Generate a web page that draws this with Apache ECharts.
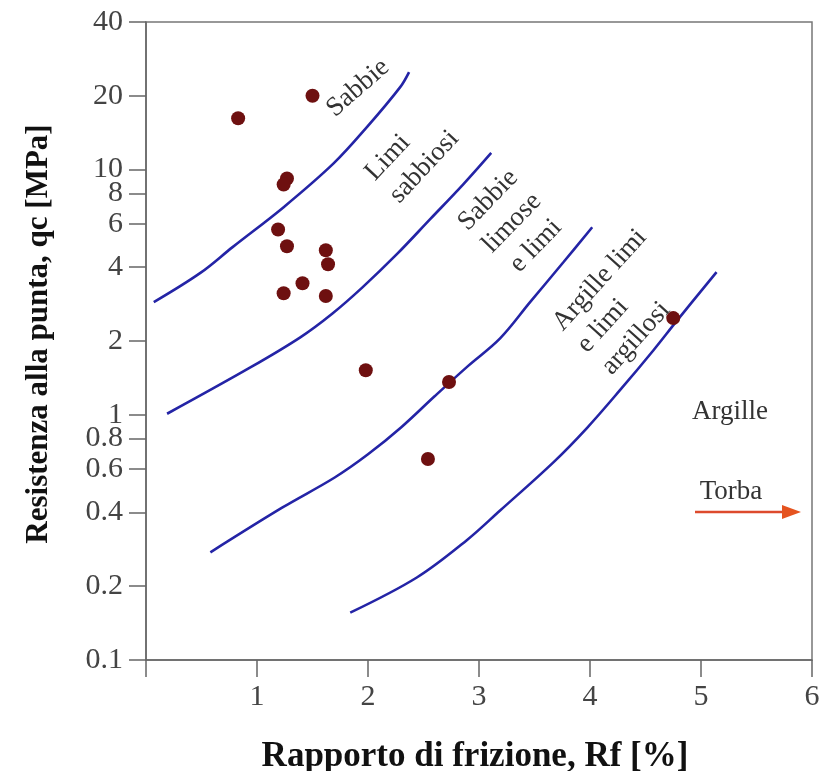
<!DOCTYPE html>
<html>
<head>
<meta charset="utf-8">
<script src="https://cdn.jsdelivr.net/npm/echarts@6/dist/echarts.min.js"></script>
<style>
  html, body { margin: 0; padding: 0; background: #fff; }
  #chart { width: 823px; height: 771px; }
</style>
</head>
<body>
<div id="chart"></div>
<script>
// Robertson-type CPT classification chart: Rf [%] vs qc [MPa] (log)

// Soil-class boundary curves, [Rf, qc]
const curveSabbie = [[0.07, 2.88], [0.49, 3.79], [0.78, 4.83], [1.24, 7.03], [1.69, 10.6], [1.99, 14.9], [2.29, 21.7], [2.37, 25.0]];
const curveLimiSabbiosi = [[0.19, 1.01], [0.94, 1.56], [1.39, 2.07], [1.68, 2.59], [1.95, 3.31], [2.26, 4.52], [2.56, 6.28], [2.86, 8.73], [3.11, 11.7]];
const curveSabbieLimose = [[0.58, 0.275], [1.23, 0.419], [1.70, 0.555], [2.00, 0.690], [2.30, 0.890], [2.60, 1.19], [2.90, 1.58], [3.19, 2.05], [3.46, 2.88], [3.76, 4.19], [4.02, 5.82]];
const curveArgilleLimi = [[1.84, 0.156], [2.44, 0.217], [2.89, 0.308], [3.19, 0.407], [3.67, 0.640], [3.97, 0.881], [4.27, 1.26], [4.57, 1.83], [4.78, 2.41], [5.14, 3.82]];

// Measured CPT points
const rfValues = [0.83, 1.50, 1.27, 1.24, 1.19, 1.27, 1.62, 1.64, 1.41, 1.24, 1.62, 1.98, 2.73, 2.54, 4.75];
const qcValues = [16.2, 20.0, 9.2, 8.7, 5.7, 4.87, 4.69, 4.11, 3.44, 3.13, 3.05, 1.52, 1.36, 0.66, 2.48];

// Axis tick values
const xTicks = [0, 1, 2, 3, 4, 5, 6];
const yTicks = [0.1, 0.2, 0.4, 0.6, 0.8, 1, 2, 4, 6, 8, 10, 20, 40];

const serif = '"Liberation Serif", "Times New Roman", serif';
const curveColor = '#2424a6';
const axisColor = '#666';

const points = rfValues.map((x, i) => [x, qcValues[i]]);

function curveSeries(name, data) {
  return {
    name: name,
    type: 'line',
    data: data,
    smooth: 0.35,
    showSymbol: false,
    symbol: 'none',
    lineStyle: { color: curveColor, width: 2.6 },
    z: 2,
    silent: true
  };
}

const chart = echarts.init(document.getElementById('chart'), null, { renderer: 'canvas' });

const zoneLabel = (text, x, y, deg, align) => ({
  type: 'text',
  x: x,
  y: y,
  rotation: deg * Math.PI / 180,
  style: {
    text: text,
    x: 0,
    y: 0,
    font: '27px ' + serif,
    fill: '#333',
    align: align,
    verticalAlign: 'middle',
    lineHeight: 33
  },
  z: 10
});

chart.setOption({
  animation: false,
  backgroundColor: '#fff',
  grid: {
    left: 146, right: 11, top: 22, bottom: 111,
    outerBoundsMode: 'none',
    containLabel: false,
    show: true,
    borderColor: '#777',
    borderWidth: 1.5,
    backgroundColor: 'transparent'
  },
  xAxis: {
    type: 'value',
    min: 0,
    max: 6,
    interval: 1,
    name: 'Rapporto di frizione, Rf [%]',
    nameLocation: 'middle',
    nameGap: 79,
    nameTextStyle: { fontFamily: serif, fontWeight: 'bold', fontSize: 35, color: '#111', padding: [0, 8, 0, 0] },
    axisLine: { show: true, onZero: false, lineStyle: { color: axisColor, width: 1.5 } },
    axisTick: { show: true, inside: false, length: 17, customValues: xTicks, lineStyle: { color: axisColor, width: 1.5 } },
    axisLabel: {
      customValues: xTicks,
      margin: 22,
      fontFamily: serif,
      fontSize: 30,
      color: '#444',
      formatter: v => (v === 0 ? '' : String(v))
    },
    splitLine: { show: false }
  },
  yAxis: {
    type: 'log',
    logBase: 10,
    min: 0.1,
    max: 40,
    name: 'Resistenza alla punta, qc [MPa]',
    nameLocation: 'middle',
    nameRotate: 90,
    nameGap: 92,
    nameTextStyle: { fontFamily: serif, fontWeight: 'bold', fontSize: 31, color: '#111', padding: [0, 0, 0, 14] },
    axisLine: { show: true, onZero: false, lineStyle: { color: axisColor, width: 1.5 } },
    axisTick: { show: true, inside: false, length: 17, customValues: yTicks, lineStyle: { color: axisColor, width: 1.5 } },
    axisLabel: {
      customValues: yTicks,
      margin: 23,
      fontFamily: serif,
      fontSize: 30,
      color: '#444',
      formatter: v => String(v)
    },
    minorTick: { show: false },
    splitLine: { show: false }
  },
  series: [
    curveSeries('Sabbie', curveSabbie),
    curveSeries('Limi sabbiosi', curveLimiSabbiosi),
    curveSeries('Sabbie limose e limi', curveSabbieLimose),
    curveSeries('Argille limi e limi argillosi', curveArgilleLimi),
    {
      name: 'CPT',
      type: 'scatter',
      data: points,
      symbol: 'circle',
      symbolSize: 14,
      itemStyle: { color: '#6e1010', opacity: 1 },
      z: 5
    }
  ],
  graphic: [
    zoneLabel('Sabbie', 358, 88, 41, 'center'),
    zoneLabel('Limi\nsabbiosi', 382, 188, 47, 'left'),
    zoneLabel('Sabbie\nlimose\ne limi', 512, 223, 46, 'center'),
    zoneLabel('Argille limi\ne limi\nargillosi', 582, 349, 48, 'left'),
    zoneLabel('Argille', 730, 412, 0, 'center'),
    zoneLabel('Torba', 731, 492, 0, 'center'),
    {
      type: 'line',
      shape: { x1: 695, y1: 512, x2: 786, y2: 512 },
      style: { stroke: '#dd4a2c', lineWidth: 2.5 },
      z: 10
    },
    {
      type: 'polygon',
      shape: { points: [[782, 505], [801, 512], [782, 519]] },
      style: { fill: '#e5531f' },
      z: 10
    }
  ]
});
</script>
</body>
</html>
